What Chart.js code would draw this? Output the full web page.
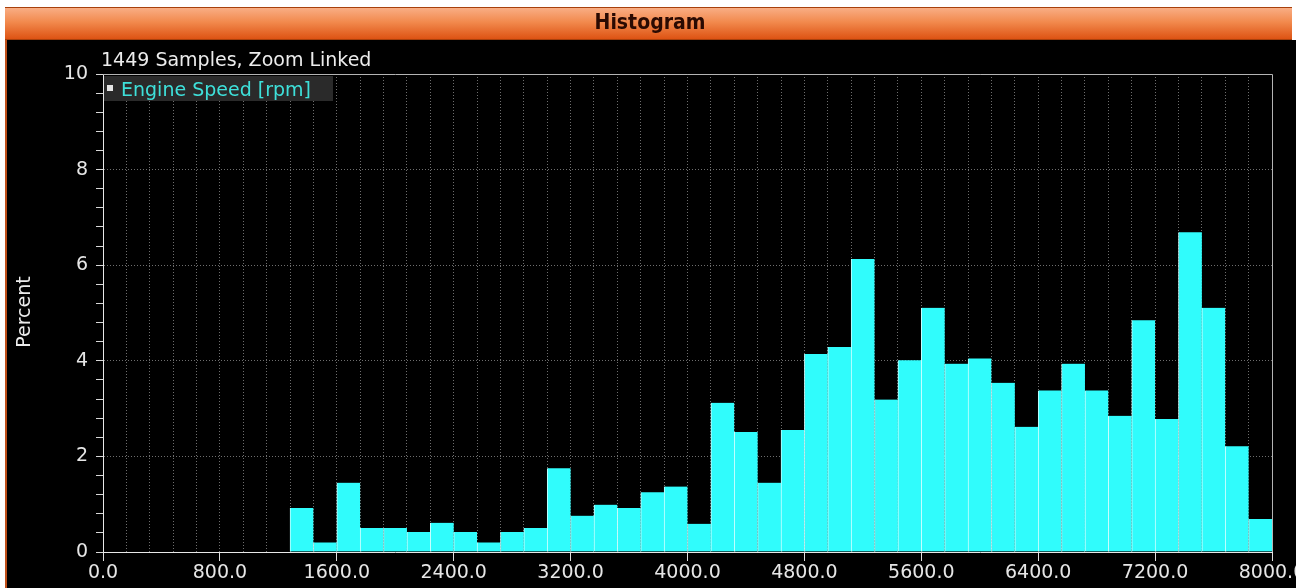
<!DOCTYPE html>
<html><head><meta charset="utf-8">
<script src="https://cdn.jsdelivr.net/npm/chart.js@4.4.1/dist/chart.umd.min.js"></script>
<style>html,body{margin:0;padding:0;background:#fff;overflow:hidden}canvas{display:block}</style>
</head><body><canvas id="c" width="1296" height="588"></canvas>
<script>
// ---- data ----
const chartTitle = 'Histogram';
const subtitleText = '1449 Samples, Zoom Linked';
const seriesName = 'Engine Speed [rpm]';
const yAxisTitle = 'Percent';
const binWidth = 160;
const binStart = [1280,1440,1600,1760,1920,2080,2240,2400,2560,2720,2880,3040,3200,3360,3520,3680,3840,
  4000,4160,4320,4480,4640,4800,4960,5120,5280,5440,5600,5760,5920,6080,6240,6400,6560,6720,6880,
  7040,7200,7360,7520,7680,7840];
const percent = [0.92,0.2,1.45,0.5,0.5,0.42,0.61,0.42,0.2,0.42,0.5,1.75,0.76,0.99,0.92,1.25,1.37,
  0.59,3.12,2.51,1.45,2.55,4.14,4.29,6.13,3.19,4.01,5.11,3.94,4.05,3.54,2.62,3.38,3.94,3.38,2.85,
  4.85,2.78,6.69,5.11,2.21,0.69];
const xMin = 0, xMax = 8000, xGridStep = 160, xLabelStep = 800;
const yMin = 0, yMax = 10, yMinorStep = 0.4, yLabelStep = 2;

const FONT = '"DejaVu Sans", Verdana, sans-serif';
const isMult = (v, s) => Math.abs(v / s - Math.round(v / s)) < 1e-6;

const decor = {
  id: 'decor',
  beforeDraw(chart) {
    const ctx = chart.ctx;
    ctx.save();
    ctx.fillStyle = '#ffffff';
    ctx.fillRect(0, 0, 1296, 588);
    ctx.fillStyle = '#000000';
    ctx.fillRect(5, 40, 1291, 548);
    ctx.fillStyle = '#c0501a';
    ctx.fillRect(5, 7, 2, 581);
    const g = ctx.createLinearGradient(0, 7, 0, 40);
    g.addColorStop(0, '#f9b088');
    g.addColorStop(0.45, '#f28a4e');
    g.addColorStop(1, '#dc5010');
    ctx.fillStyle = g;
    ctx.fillRect(5, 7, 1287, 33);
    ctx.fillStyle = '#a8400c';
    ctx.fillRect(5, 7, 1287, 1);
    ctx.fillRect(5, 39, 1287, 1);
    ctx.restore();
  },
  afterDatasetsDraw(chart) {
    const {ctx, chartArea: a} = chart;
    ctx.save();
    ctx.strokeStyle = '#b4b4b4';
    ctx.lineWidth = 1;
    ctx.beginPath();
    ctx.moveTo(a.left, a.top + 0.5);
    ctx.lineTo(a.right + 0.5, a.top + 0.5);
    ctx.lineTo(a.right + 0.5, a.bottom);
    ctx.stroke();
    ctx.restore();
  },
  afterDraw(chart) {
    const {ctx, chartArea: a} = chart;
    ctx.save();
    // title
    ctx.font = 'bold 21px "DejaVu Sans Condensed", ' + FONT;
    ctx.fillStyle = '#2a0a02';
    ctx.textAlign = 'center';
    ctx.textBaseline = 'middle';
    ctx.fillText(chartTitle, 650, 24);
    // subtitle
    ctx.font = '19px ' + FONT;
    ctx.fillStyle = '#ececec';
    ctx.textAlign = 'left';
    ctx.textBaseline = 'alphabetic';
    ctx.fillText(subtitleText, 101, 66);
    // legend
    ctx.fillStyle = '#2a2a2a';
    ctx.fillRect(a.left + 1, a.top + 2, 229, 25);
    ctx.fillStyle = '#e6e6e6';
    ctx.fillRect(a.left + 4, a.top + 11, 6, 6);
    ctx.fillStyle = '#3ee0da';
    ctx.font = '19px ' + FONT;
    ctx.fillText(chart.data.datasets[0].label, a.left + 18, a.top + 22);
    // y axis title
    ctx.translate(25, 312);
    ctx.rotate(-Math.PI / 2);
    ctx.fillStyle = '#ececec';
    ctx.textAlign = 'center';
    ctx.textBaseline = 'middle';
    ctx.fillText(yAxisTitle, 0, 0);
    ctx.restore();
  }
};

new Chart(document.getElementById('c'), {
  type: 'bar',
  data: {
    datasets: [{
      label: seriesName,
      data: binStart.map((s, i) => ({x: s + binWidth / 2, y: percent[i]})),
      backgroundColor: '#30fcfc',
      borderColor: '#c8ffff',
      borderWidth: {left: 1, right: 0, top: 0, bottom: 0},
      borderSkipped: false,
      barPercentage: 1,
      categoryPercentage: 1
    }]
  },
  options: {
    responsive: false,
    animation: false,
    devicePixelRatio: 1,
    layout: {padding: {top: 74, right: 24, bottom: 0, left: 0}},
    plugins: {legend: {display: false}, tooltip: {enabled: false}, title: {display: false}},
    scales: {
      x: {
        type: 'linear',
        offset: false,
        min: xMin, max: xMax,
        afterFit(s) { s.height = 36; s.paddingLeft = 0; s.paddingRight = 0; s.paddingTop = 0; s.paddingBottom = 0; },
        ticks: {
          stepSize: xGridStep, autoSkip: false, maxRotation: 0, minRotation: 0,
          color: '#e6e6e6', font: {family: FONT, size: 19}, padding: 1,
          callback: v => isMult(v, xLabelStep) ? Number(v).toFixed(1) : ''
        },
        grid: {
          offset: false,
          color: c => (c.tick && c.tick.value > xMin && c.tick.value < xMax) ? '#6e6e6e' : 'rgba(0,0,0,0)',
          lineWidth: 1,
          tickLength: 9,
          tickColor: c => (c.tick && isMult(c.tick.value, xLabelStep)) ? '#e0e0e0' : 'rgba(0,0,0,0)',
          borderDash: [1, 2]
        },
        border: {display: true, color: '#e8e8e8', width: 1, dash: [1, 2]}
      },
      y: {
        min: yMin, max: yMax,
        afterFit(s) { s.width = 103; s.paddingLeft = 0; s.paddingRight = 0; s.paddingTop = 0; s.paddingBottom = 0; },
        ticks: {
          stepSize: yMinorStep, autoSkip: false,
          color: '#e6e6e6', font: {family: FONT, size: 19}, padding: 8,
          callback: v => isMult(v, yLabelStep) ? String(Math.round(v)) : ''
        },
        grid: {
          color: c => (c.tick && isMult(c.tick.value, yLabelStep) && c.tick.value > yMin + 1e-6 && c.tick.value < yMax - 1e-6) ? '#6e6e6e' : 'rgba(0,0,0,0)',
          lineWidth: 1,
          tickLength: 7,
          tickColor: '#d8d8d8',
          borderDash: [1, 2]
        },
        border: {display: true, color: '#e8e8e8', width: 1, dash: [1, 2]}
      }
    }
  },
  plugins: [decor]
});
</script>
</body></html>
